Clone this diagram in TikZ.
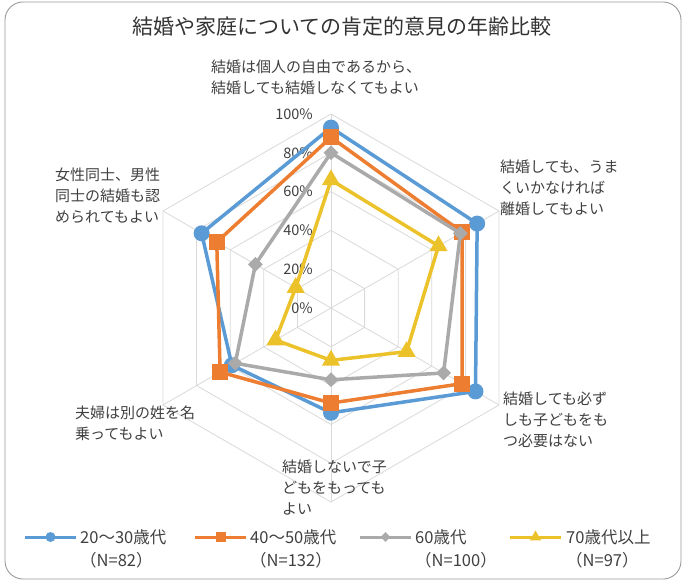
\documentclass[tikz,border=0pt]{standalone}
\usepackage{fontspec}
\setmainfont{Noto Sans CJK JP}
\usepackage{xcolor}
\usetikzlibrary{calc,shapes.geometric}
\definecolor{sblue}{RGB}{91,155,213}
\definecolor{sorange}{RGB}{237,125,49}
\definecolor{sgray}{RGB}{170,170,170}
\definecolor{syellow}{RGB}{236,194,42}
\definecolor{gridc}{RGB}{217,217,217}
\definecolor{txt}{RGB}{64,64,64}

\begin{document}
\begin{tikzpicture}[x=1pt,y=1pt,
lab/.style={anchor=west, align=left, inner sep=0, text=txt, font=\fontsize{15}{21}\selectfont},
pct/.style={anchor=east, inner sep=0, text=txt, font=\fontsize{14.5}{16}\selectfont},
leg/.style={anchor=west, align=left, inner sep=0, text=txt, font=\fontsize{16.5}{23}\selectfont},
ser/.style={line width=3.5pt, line join=round},
mcirc/.style={circle, fill=#1, minimum size=16pt, inner sep=0},
msq/.style={rectangle, fill=#1, minimum size=16pt, inner sep=0},
mdia/.style={diamond, fill=#1, minimum size=15pt, inner sep=0},
mtri/.style={regular polygon, regular polygon sides=3, fill=#1, minimum size=21pt, inner sep=0}]
	\useasboundingbox (0,0) rectangle (684,584);
	\draw[rounded corners=18pt, draw=black!40, line width=0.9pt] (5,5) rectangle (681,582);
	\node[font=\fontsize{21}{24}\selectfont, text=black!80] (title) at (342,557) {結婚や家庭についての肯定的意見の年齢比較};

	\coordinate (o) at (331,276);
	\begin{scope}[shift={(o)}]
	% grid
	\foreach \r in {1,...,5}
		\draw[gridc, line width=0.8pt] (90:\r*38.8) -- (30:\r*38.8) -- (-30:\r*38.8) -- (-90:\r*38.8) -- (-150:\r*38.8) -- (150:\r*38.8) -- cycle;
	\foreach \a in {90,30,-30,-90,-150,150}
		\draw[gridc, line width=0.8pt] (0,0) -- (\a:194);
	\foreach \v in {0,20,...,100}
		\node[pct] (p\v) at (-18,\v*1.94) {\v\%};

	% series
	\foreach \v [count=\i] in {93,87,86,54,59,77}
		\coordinate (b\i) at (150-\i*60:\v*1.94);
	\foreach \v [count=\i] in {88,78,78,49,66,68}
		\coordinate (r\i) at (150-\i*60:\v*1.94);
	\foreach \v [count=\i] in {80,77,67,37,57,45}
		\coordinate (g\i) at (150-\i*60:\v*1.94);
	\foreach \v [count=\i] in {66,64,45,27,33,21}
		\coordinate (y\i) at (150-\i*60:\v*1.94);

	\draw[ser, sblue] (b1) -- (b2) -- (b3) -- (b4) -- (b5) -- (b6) -- cycle;
	\foreach \i in {1,...,6} \node[mcirc=sblue] (mb\i) at (b\i) {};
	\draw[ser, sorange] (r1) -- (r2) -- (r3) -- (r4) -- (r5) -- (r6) -- cycle;
	\foreach \i in {1,...,6} \node[msq=sorange] (mr\i) at (r\i) {};
	\draw[ser, sgray] (g1) -- (g2) -- (g3) -- (g4) -- (g5) -- (g6) -- cycle;
	\foreach \i in {1,...,6} \node[mdia=sgray] (mg\i) at (g\i) {};
	\draw[ser, syellow] (y1) -- (y2) -- (y3) -- (y4) -- (y5) -- (y6) -- cycle;
	\foreach \i in {1,...,6} \node[mtri=syellow] (my\i) at (y\i) {};
	\end{scope}

	% axis labels
	\node[lab] (a1) at (211,507) {結婚は個人の自由であるから、\\結婚しても結婚しなくてもよい};
	\node[lab] (a2) at (500,396) {結婚しても、うま\\くいかなければ\\離婚してもよい};
	\node[lab] (a3) at (503,164) {結婚しても必ず\\しも子どもをも\\つ必要はない};
	\node[lab] (a4) at (282,96) {結婚しないで子\\どもをもっても\\よい};
	\node[lab] (a5) at (75,161) {夫婦は別の姓を名\\乗ってもよい};
	\node[lab] (a6) at (55,388) {女性同士、男性\\同士の結婚も認\\められてもよい};

	% legend
	\coordinate (lb1) at (25,47); \coordinate (lb2) at (76,47);
	\coordinate (lr1) at (195,47); \coordinate (lr2) at (246,47);
	\coordinate (lg1) at (360,47); \coordinate (lg2) at (411,47);
	\coordinate (ly1) at (510,47); \coordinate (ly2) at (561,47);
	\draw[sblue, line width=3pt] (lb1) -- (lb2);
	\node[mcirc=sblue, minimum size=10pt] (klb) at ($(lb1)!0.5!(lb2)$) {};
	\draw[sorange, line width=3pt] (lr1) -- (lr2);
	\node[msq=sorange, minimum size=10pt] (klr) at ($(lr1)!0.5!(lr2)$) {};
	\draw[sgray, line width=3pt] (lg1) -- (lg2);
	\node[mdia=sgray, minimum size=10pt] (klg) at ($(lg1)!0.5!(lg2)$) {};
	\draw[syellow, line width=3pt] (ly1) -- (ly2);
	\node[mtri=syellow, minimum size=13pt] (kly) at ($(ly1)!0.5!(ly2)$) {};
	\node[leg] (tb) at (80,35.5) {20～30歳代\\（N=82）};
	\node[leg] (tr) at (250,35.5) {40～50歳代\\（N=132）};
	\node[leg] (tg) at (415,35.5) {60歳代\\（N=100）};
	\node[leg] (ty) at (566,35.5) {70歳代以上\\（N=97）};
\end{tikzpicture}
\end{document}
